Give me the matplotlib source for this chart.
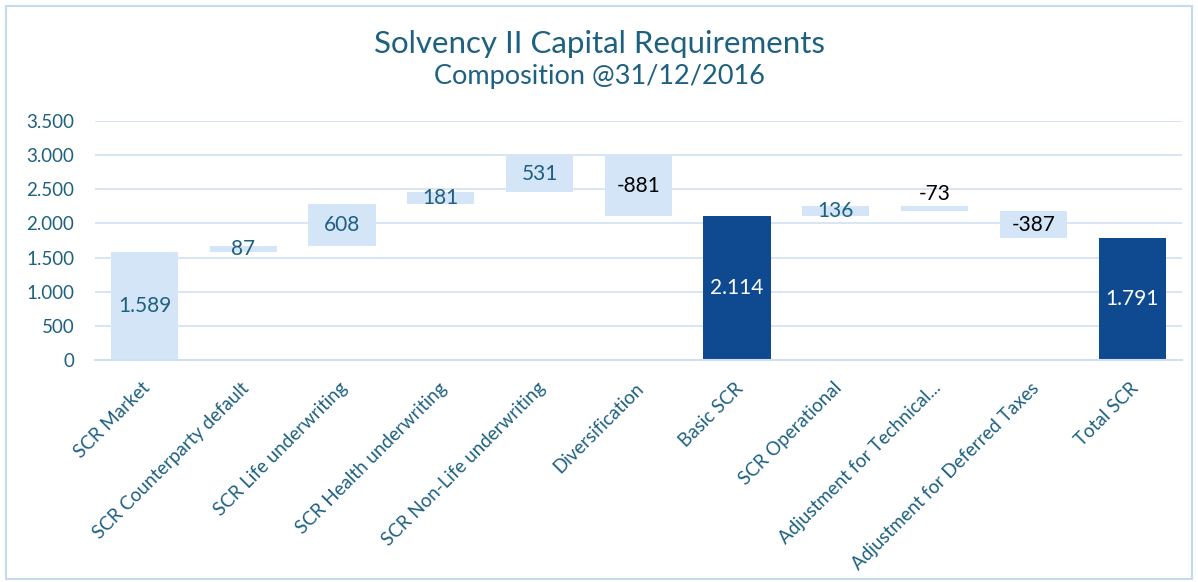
import matplotlib
matplotlib.use("Agg")
import matplotlib.pyplot as plt
from matplotlib.patches import Rectangle
from matplotlib.transforms import ScaledTranslation

categories = ["SCR Market", "SCR Counterparty default", "SCR Life underwriting",
              "SCR Health underwriting", "SCR Non-Life underwriting", "Diversification",
              "Basic SCR", "SCR Operational", "Adjustment for Technical...",
              "Adjustment for Deferred Taxes", "Total SCR"]
values = [1589, 87, 608, 181, 531, -881, 2114, 136, -73, -387, 1791]
is_total = [False, False, False, False, False, False, True, False, False, False, True]
yticks = [0, 500, 1000, 1500, 2000, 2500, 3000, 3500]

plt.rcParams['font.family'] = ['Lato', 'DejaVu Sans']
teal = "#1d6080"
light = "#d5e5f8"
dark = "#0f4a91"
grid_c = "#cfe0f3"

fig = plt.figure(figsize=(11.98, 5.82), dpi=100)
fig.patches.append(Rectangle((0.005, 0.005), 0.99, 0.985, transform=fig.transFigure,
                             fill=False, edgecolor="#c5daf2", linewidth=1.5))
ax = fig.add_axes([0.0793, 0.3814, 0.907, 0.4106])

fmt = lambda n: f"{n:,}".replace(",", ".")

running = 0
for i, (v, tot) in enumerate(zip(values, is_total)):
    if tot or i == 0:
        bottom, height = 0, v
        running = v
    else:
        if v >= 0:
            bottom, height = running, v
        else:
            bottom, height = running + v, -v
        running += v
    col = dark if tot else light
    ax.bar(i, height, bottom=bottom, width=0.68, color=col, zorder=2)
    if tot:
        tc = "white"
    else:
        tc = teal if v >= 0 else "black"
    y = bottom + height / 2
    if v < 0 and abs(v) < 100:
        y = bottom + height + 180
    ax.text(i, y, fmt(v), ha="center", va="center", color=tc, fontsize=15, zorder=3)

ax.set_ylim(0, 3500)
ax.set_xlim(-0.5, len(categories) - 0.5)
ax.set_yticks(yticks)
ax.set_yticklabels([fmt(t) for t in yticks], color=teal, fontsize=13.5)
ax.set_xticks(range(len(categories)))
ax.set_xticklabels(categories, rotation=45, ha="right", rotation_mode="anchor",
                   color=teal, fontsize=13.5)
ax.tick_params(axis='y', length=0, pad=15)
ax.tick_params(axis='x', length=0, pad=14)
off = ScaledTranslation(-3 / 100, 0, fig.dpi_scale_trans)
for lab in ax.get_xticklabels():
    lab.set_transform(lab.get_transform() + off)
ax.grid(axis='y', color=grid_c, linewidth=1.2, zorder=0)
for s in ["top", "right", "left"]:
    ax.spines[s].set_visible(False)
ax.spines["bottom"].set_color(grid_c)
ax.spines["bottom"].set_linewidth(1.5)

fig.text(0.5, 0.925, "Solvency II Capital Requirements", ha="center", va="center",
         color=teal, fontsize=22.5)
fig.text(0.5, 0.868, "Composition @31/12/2016", ha="center", va="center",
         color=teal, fontsize=19.5)

fig.savefig("out.png", dpi=100)
